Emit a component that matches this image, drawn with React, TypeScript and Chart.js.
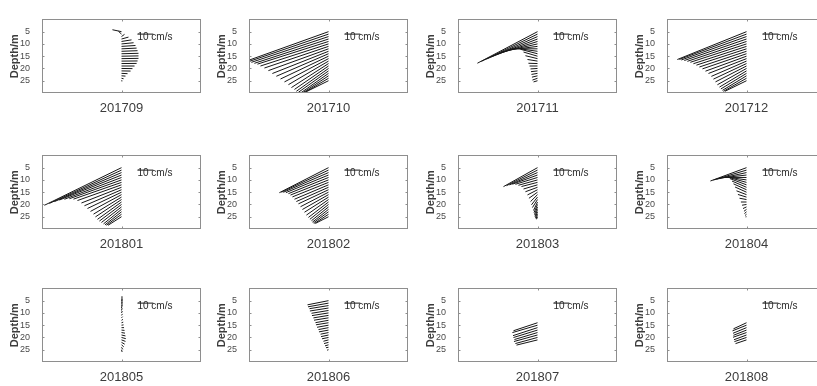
import React, { useEffect, useRef } from 'react';
import { Chart, registerables } from 'chart.js';

Chart.register(...registerables);

// ---- data -----------------------------------------------------------------
// Monthly mean current profiles: one stick per depth bin, starting at x = 0.
// u = eastward speed (cm/s), v = northward speed (cm/s, drawn upward).
const MONTHS = ['201709', '201710', '201711', '201712', '201801', '201802',
  '201803', '201804', '201805', '201806', '201807', '201808'];

const DEPTHS = [5, 6, 7, 8, 9, 10, 11, 12, 13, 14, 15, 16, 17, 18, 19, 20, 21, 22, 23, 24, 25];
const DEPTH_TICKS = [5, 10, 15, 20, 25];
const SCALE_SPEED = 10; // reference stick, cm/s
const SCALE_LABEL = '10 cm/s';

const U_201709 = [-5.7, -1.9, 1.9, 4.4, 6.3, 7.6, 8.8, 9.5, 10.1, 10.7, 10.7, 10.7, 10.1, 9.5, 8.2, 6.9, 5.7, 3.8, 2.5, 1.3, 0.3];
const V_201709 = [1.3, 1.9, 1.5, 1.3, 1.1, 0.8, 0.6, 0.5, 0.4, 0.3, 0.2, 0.2, 0.1, 0.1, 0, -0.1, -0.1, -0.2, -0.2, -0.3, -0.3];

const U_201710 = [-50.4, -49.8, -48.5, -46.6, -44.7, -42.8, -40.3, -37.8, -35.3, -32.8, -30.2, -27.7, -25.2, -23.3, -21.4, -20.2, -18.9, -17.6, -17.0, -15.8, -14.5];
const V_201710 = [-19.4, -18.4, -17.4, -16.4, -15.3, -14.9, -14.6, -14.7, -15.0, -15.2, -15.4, -15.7, -15.9, -16.2, -15.8, -15.4, -14.4, -13.3, -12.0, -10.0, -7.7];

const U_201711 = [-37.8, -35.3, -32.1, -29.0, -25.8, -22.7, -19.5, -16.4, -13.2, -10.7, -8.8, -7.6, -6.3, -5.7, -5.0, -4.4, -4.1, -3.8, -3.5, -3.2, -2.5];
const V_201711 = [-21.3, -18.4, -15.2, -12.0, -8.7, -5.5, -2.6, 0.1, 2.0, 3.0, 2.8, 2.0, 1.1, 0.2, 0, -0.3, -0.5, -0.7, -0.9, -1.2, -0.8];

const U_201712 = [-43.5, -42.2, -41.0, -39.1, -37.2, -35.3, -33.4, -31.5, -29.6, -27.7, -25.8, -23.9, -22.1, -20.8, -19.5, -18.3, -17.0, -16.1, -15.1, -14.5, -13.5];
const V_201712 = [-18.8, -17.1, -15.8, -14.5, -13.4, -12.4, -11.7, -11.0, -10.6, -10.2, -10.1, -10.0, -10.3, -10.5, -10.7, -11.0, -10.9, -10.5, -9.8, -8.8, -7.1];

const U_201801 = [-48.5, -45.4, -42.2, -39.1, -35.9, -32.8, -30.2, -27.7, -25.2, -23.3, -21.4, -19.5, -17.6, -16.4, -15.1, -13.9, -12.6, -11.3, -10.4, -9.5, -8.5];
const V_201801 = [-25.4, -22.5, -19.6, -16.9, -14.7, -12.7, -11.3, -10.6, -10.6, -10.8, -11.0, -11.3, -11.5, -11.7, -11.7, -11.2, -10.5, -9.8, -8.8, -7.4, -5.8];

const U_201802 = [-30.9, -29.6, -28.4, -26.8, -25.2, -23.9, -22.7, -21.4, -20.2, -18.9, -17.6, -16.4, -15.1, -13.9, -12.6, -11.7, -10.7, -10.1, -9.5, -8.8, -8.2];
const V_201802 = [-16.9, -14.9, -13.3, -11.9, -10.9, -10.2, -9.8, -9.7, -9.6, -9.5, -9.8, -10.0, -10.2, -10.5, -10.4, -10.0, -9.3, -8.6, -7.5, -6.2, -4.5];

const U_201803 = [-21.4, -19.5, -17.6, -15.8, -13.9, -12.0, -10.1, -8.8, -7.6, -6.3, -5.4, -4.4, -3.8, -3.2, -2.5, -2.2, -1.9, -1.6, -1.3, -0.9, -0.6];
const V_201803 = [-12.8, -10.5, -8.3, -6.2, -4.6, -3.6, -2.8, -2.8, -3.0, -3.5, -4.1, -4.7, -5.2, -5.4, -5.7, -5.5, -5.2, -4.8, -4.0, -3.0, -1.7];

const U_201804 = [-22.7, -20.8, -18.9, -17.0, -15.1, -13.2, -11.7, -10.4, -9.1, -8.2, -7.2, -6.3, -5.4, -4.4, -3.5, -2.8, -2.2, -1.6, -1.3, -0.9, -0.6];
const V_201804 = [-9.0, -6.7, -4.5, -2.1, 0.1, 2.1, 3.5, 4.2, 4.2, 4.0, 3.5, 2.6, 1.8, 0.9, 0, -0.5, -1.1, -1.3, -1.2, -0.8, -0.1];

const U_201805 = [0.3, 0.3, 0.3, 0.4, 0.4, 0.5, 0.6, 0.7, 0.9, 1.1, 1.3, 1.6, 1.9, 2.2, 2.5, 2.7, 2.5, 2.0, 1.4, 0.8, 0.4];
const V_201805 = [3.0, 2.6, 2.2, 1.9, 1.6, 1.3, 1.0, 0.8, 0.6, 0.4, 0.2, 0, -0.2, -0.4, -0.6, -0.8, -1.0, -1.2, -1.3, -1.4, -1.5];

const U_201806 = [-13.2, -12.9, -12.0, -11.7, -10.7, -10.4, -9.5, -9.1, -8.2, -7.9, -7.2, -6.3, -6.0, -5.0, -4.7, -4.1, -3.2, -2.8, -2.2, -1.6, -0.9];
const V_201806 = [-2.8, -2.5, -2.1, -2.0, -1.9, -1.8, -1.7, -1.6, -1.6, -1.4, -1.4, -1.3, -1.2, -1.1, -1.1, -0.9, -0.9, -0.8, -0.7, -0.3, -0.3];

const U_201807 = [null, null, null, null, null, null, null, null, null, -15.1, -15.8, -15.4, -15.1, -14.5, -14.8, -13.9, -13.2, null, null, null, null];
const V_201807 = [null, null, null, null, null, null, null, null, null, -5.4, -5.0, -5.4, -5.0, -4.7, -4.4, -4.1, -3.5, null, null, null, null];

const U_201808 = [null, null, null, null, null, null, null, null, null, -8.2, -8.8, -8.5, -8.2, -8.5, -7.9, -7.6, -6.9, null, null, null, null];
const V_201808 = [null, null, null, null, null, null, null, null, null, -4.1, -3.8, -3.8, -3.5, -3.2, -3.2, -2.8, -2.5, null, null, null, null];

const U_SERIES = [U_201709, U_201710, U_201711, U_201712, U_201801, U_201802,
  U_201803, U_201804, U_201805, U_201806, U_201807, U_201808];
const V_SERIES = [V_201709, V_201710, V_201711, V_201712, V_201801, V_201802,
  V_201803, V_201804, V_201805, V_201806, V_201807, V_201808];

// ---- layout ---------------------------------------------------------------
const FONT = '"Liberation Sans", Arial, Helvetica, sans-serif';
const X_RANGE = 50;          // cm/s either side of the profile axis
const DEPTH_MIN = 0;
const DEPTH_MAX = 30;
const BOX_W = 159;
const BOX_H = 79;
const Y_AXIS_W = 44;
const PAD_TOP = 4;
const PAD_RIGHT = 5;
const X_AXIS_H = 25;
const CANVAS_W = Y_AXIS_W + BOX_W + PAD_RIGHT;
const CANVAS_H = PAD_TOP + BOX_H + X_AXIS_H;
// metres of plotted depth per cm/s, so sticks keep one scale on both axes
const M_PER_CMS = ((BOX_W / (2 * X_RANGE)) / (BOX_H / (DEPTH_MAX - DEPTH_MIN)));
const BOX_LEFTS = [42, 249, 458, 667];
const BOX_TOPS = [14, 150, 283];

const FRAME_COLOR = '#8e8e8e';
const TEXT_COLOR = '#3c3c3c';
const STICK_COLOR = '#161616';

const framePlugin = {
  id: 'profileFrame',
  afterDatasetsDraw(chart: any) {
    const { ctx, chartArea: a, scales } = chart;
    const xs = scales.x;
    const ys = scales.y;
    const l = Math.round(a.left) + 0.5;
    const t = Math.round(a.top) + 0.5;
    const r = Math.round(a.right) - 0.5;
    const b = Math.round(a.bottom) - 0.5;
    ctx.save();
    ctx.strokeStyle = FRAME_COLOR;
    ctx.lineWidth = 1;
    ctx.strokeRect(l, t, r - l, b - t);
    // inward tick marks
    ctx.beginPath();
    DEPTH_TICKS.forEach((d) => {
      const py = Math.round(ys.getPixelForValue(d)) + 0.5;
      ctx.moveTo(l, py); ctx.lineTo(l + 2, py);
      ctx.moveTo(r, py); ctx.lineTo(r - 2, py);
    });
    const px = Math.round(xs.getPixelForValue(0)) + 0.5;
    ctx.moveTo(px, t); ctx.lineTo(px, t + 2);
    ctx.moveTo(px, b); ctx.lineTo(px, b - 2);
    ctx.stroke();
    // reference stick with its label
    const x0 = xs.getPixelForValue(SCALE_SPEED);
    const x1 = xs.getPixelForValue(2 * SCALE_SPEED);
    const yLine = ys.getPixelForValue(6);
    ctx.strokeStyle = STICK_COLOR;
    ctx.beginPath();
    ctx.moveTo(x0, yLine); ctx.lineTo(x1, yLine);
    ctx.stroke();
    ctx.fillStyle = '#2a2a2a';
    ctx.font = `10px ${FONT}`;
    ctx.textBaseline = 'middle';
    ctx.textAlign = 'left';
    ctx.fillText(SCALE_LABEL, x0, ys.getPixelForValue(7.3));
    ctx.restore();
  },
};

type PanelProps = { title: string; u: (number | null)[]; v: (number | null)[]; left: number; top: number };

function ProfilePanel({ title, u, v, left, top }: PanelProps) {
  const ref = useRef<HTMLCanvasElement>(null);

  useEffect(() => {
    if (!ref.current) return;
    const points: { x: number; y: number | null }[] = [];
    DEPTHS.forEach((d, i) => {
      const ui = u[i];
      const vi = v[i];
      if (ui == null || vi == null) return;
      points.push({ x: 0, y: d });
      points.push({ x: ui, y: d - vi * M_PER_CMS });
      points.push({ x: 0, y: null });
    });

    const chart = new Chart(ref.current, {
      type: 'scatter',
      data: {
        datasets: [{
          data: points as any,
          showLine: true,
          spanGaps: false,
          borderColor: STICK_COLOR,
          borderWidth: 1,
          pointRadius: 0,
          pointHoverRadius: 0,
        }],
      },
      options: {
        animation: false,
        responsive: false,
        events: [],
        layout: { padding: { left: 0, top: PAD_TOP, right: PAD_RIGHT, bottom: 0 } },
        plugins: { legend: { display: false }, tooltip: { enabled: false } },
        scales: {
          x: {
            type: 'linear',
            min: -X_RANGE,
            max: X_RANGE,
            grid: { display: false },
            border: { display: false },
            ticks: { display: false },
            title: {
              display: true,
              text: title,
              color: TEXT_COLOR,
              font: { family: FONT, size: 13 },
              padding: { top: 0, bottom: 2.2 },
            },
            afterFit: (s: any) => { s.height = X_AXIS_H; },
          },
          y: {
            type: 'linear',
            reverse: true,
            min: DEPTH_MIN,
            max: DEPTH_MAX,
            grid: { display: false },
            border: { display: false },
            afterBuildTicks: (s: any) => { s.ticks = DEPTH_TICKS.map((value) => ({ value })); },
            ticks: { color: '#4a4a4a', font: { family: FONT, size: 9 }, padding: 4 },
            title: {
              display: true,
              text: 'Depth/m',
              color: TEXT_COLOR,
              font: { family: FONT, size: 11, weight: 'bold' },
              padding: { top: 10.7, bottom: 0 },
            },
            afterFit: (s: any) => { s.width = Y_AXIS_W; },
          },
        },
      } as any,
      plugins: [framePlugin],
    });
    return () => chart.destroy();
  }, [title, u, v]);

  return (
    <canvas
      ref={ref}
      width={CANVAS_W}
      height={CANVAS_H}
      style={{ position: 'absolute', left: left - Y_AXIS_W, top: top - PAD_TOP, width: CANVAS_W, height: CANVAS_H }}
    />
  );
}

export default function App() {
  return (
    <div style={{ position: 'fixed', left: 0, top: 0, width: 817, height: 386, overflow: 'hidden', background: '#fff' }}>
      {MONTHS.map((m, i) => (
        <ProfilePanel
          key={m}
          title={m}
          u={U_SERIES[i]}
          v={V_SERIES[i]}
          left={BOX_LEFTS[i % 4]}
          top={BOX_TOPS[Math.floor(i / 4)]}
        />
      ))}
    </div>
  );
}
